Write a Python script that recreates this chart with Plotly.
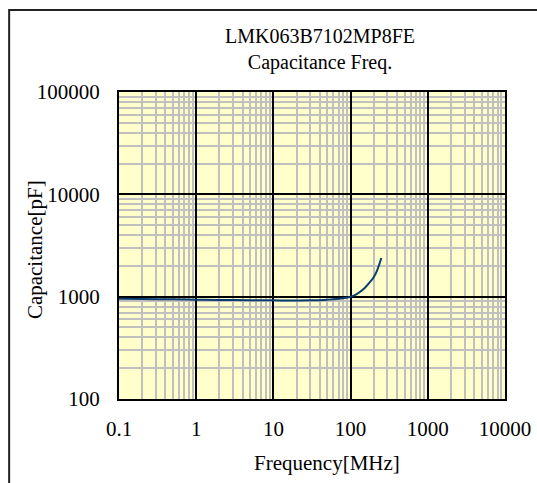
import numpy as np
import plotly.graph_objects as go

# Data
freq_mhz = [0.1, 0.2, 0.5, 1, 2, 5, 10, 20, 30, 50, 70, 100, 120, 150, 180, 200, 220, 250]
cap_pf = [955, 950, 942, 935, 930, 925, 920, 918, 920, 935, 955, 1000, 1060, 1200, 1400, 1560, 1800, 2390]

x_tickvals = [0.1, 1, 10, 100, 1000, 10000]
x_ticktext = ["0.1", "1", "10", "100", "1000", "10000"]
y_tickvals = [100, 1000, 10000, 100000]
y_ticktext = ["100", "1000", "10000", "100000"]

title_lines = ["LMK063B7102MP8FE", "Capacitance Freq."]
x_title = "Frequency[MHz]"
y_title = "Capacitance[pF]"

W, H = 537, 483
L, R, T, B = 119, 505.5, 92, 399

def minor_vals(lo, hi):
    out = []
    for e in range(lo, hi):
        for m in range(2, 10):
            out.append(m * 10 ** e)
    return out

FONT = "Liberation Serif, Times New Roman, serif"
FS = 21

fig = go.Figure()
fig.add_trace(go.Scatter(x=freq_mhz, y=cap_pf, mode="lines",
                         line=dict(color="#0B3C6E", width=2, shape="spline"),
                         showlegend=False, hoverinfo="x+y"))

fig.update_layout(
    width=W, height=H,
    margin=dict(l=L, r=W - R, t=T, b=H - B, autoexpand=False),
    paper_bgcolor="white",
    plot_bgcolor="#FFFFCC",
    font=dict(family=FONT, size=FS, color="black"),
    showlegend=False,
)

fig.update_xaxes(type="log", range=[-1, 4], tickvals=x_tickvals, ticktext=x_ticktext,
                 showgrid=True, gridcolor="black", gridwidth=1.5,
                 minor=dict(tickvals=minor_vals(-1, 4), showgrid=True, gridcolor="#C0C0C0", gridwidth=1.5),
                 ticks="outside", ticklen=10, tickcolor="rgba(0,0,0,0)",
                 showline=True, linecolor="black", linewidth=2, mirror=True,
                 zeroline=False, tickfont=dict(family=FONT, size=FS))
fig.update_yaxes(type="log", range=[2, 5], tickvals=y_tickvals, ticktext=y_ticktext,
                 showgrid=True, gridcolor="black", gridwidth=1.5,
                 minor=dict(tickvals=minor_vals(2, 5), showgrid=True, gridcolor="#C0C0C0", gridwidth=1.5),
                 ticks="outside", ticklen=13, tickcolor="rgba(0,0,0,0)",
                 showline=True, linecolor="black", linewidth=2, mirror=True,
                 zeroline=False, tickfont=dict(family=FONT, size=FS))

pw, ph = R - L, B - T
# two-line chart title
fig.add_annotation(text="<br>".join(title_lines), xref="paper", yref="paper",
                   x=(320 - L) / pw, y=(B - 50) / ph, showarrow=False,
                   xanchor="center", yanchor="middle", align="center",
                   font=dict(family=FONT, size=20))
fig.add_annotation(text=x_title, xref="paper", yref="paper",
                   x=(327 - L) / pw, y=(B - 463) / ph, showarrow=False,
                   xanchor="center", yanchor="middle", font=dict(family=FONT, size=FS))
fig.add_annotation(text=y_title, xref="paper", yref="paper", textangle=-90,
                   x=(35 - L) / pw, y=(B - 250) / ph, showarrow=False,
                   xanchor="center", yanchor="middle", font=dict(family=FONT, size=FS))

# outer frame of the chart (extends past right/bottom edges as in the reference)
fig.add_shape(type="rect", xref="paper", yref="paper",
              x0=(9 - L) / pw, x1=(560 - L) / pw, y0=(B - 520) / ph, y1=(B - 10) / ph,
              line=dict(color="#222222", width=2), fillcolor="rgba(0,0,0,0)", layer="below")

fig.write_html("out.html", config={"displayModeBar": False},
               post_script="document.body.style.margin='0';")
